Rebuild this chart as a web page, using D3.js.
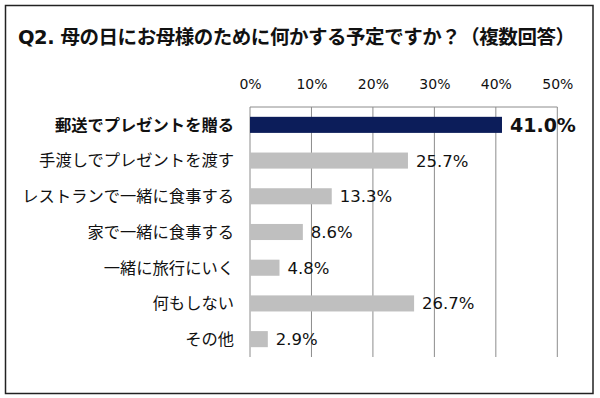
<!DOCTYPE html>
<html><head><meta charset="utf-8">
<script src="https://cdn.jsdelivr.net/npm/d3@7"></script>
<style>html,body{margin:0;padding:0;background:#fff;}svg{display:block;}</style>
</head><body>
<svg id="c" width="600" height="398"></svg>
<script>
const title = "Q2. 母の日にお母様のために何かする予定ですか？（複数回答）";
const categories = ["郵送でプレゼントを贈る","手渡しでプレゼントを渡す","レストランで一緒に食事する","家で一緒に食事する","一緒に旅行にいく","何もしない","その他"];
const values = [41.0, 25.7, 13.3, 8.6, 4.8, 26.7, 2.9];
const tickValues = [0, 10, 20, 30, 40, 50];
const highlight = "郵送でプレゼントを贈る";

const svg = d3.select("#c");
const FONT = "'DejaVu Sans','Noto Sans CJK JP',sans-serif";
const JFONT = "'Noto Sans CJK JP',sans-serif";

svg.append("rect").attr("x",5.5).attr("y",5.5).attr("width",587.5).attr("height",388)
  .attr("fill","#fff").attr("stroke","#222").attr("stroke-width",1.5);

const t = svg.append("text").attr("x",18).attr("y",44).attr("font-family",FONT)
  .attr("font-weight","bold").attr("font-size",19.5).attr("fill","#111").text(title);
t.attr("textLength",557).attr("lengthAdjust","spacing");

const x = d3.scaleLinear().domain([0,50]).range([250,557.3]);
const y = d3.scaleBand().domain(categories).range([107,357]).paddingInner(0.55).paddingOuter(0.275);

// gridlines
svg.append("g").selectAll("line").data(tickValues).join("line")
  .attr("x1",d=>x(d)).attr("x2",d=>x(d)).attr("y1",107).attr("y2",357)
  .attr("stroke","#8c8c8c").attr("stroke-width",1);
svg.append("line").attr("x1",x(0)).attr("x2",x(50)).attr("y1",107).attr("y2",107)
  .attr("stroke","#8c8c8c").attr("stroke-width",1);

// top axis labels
const ax = d3.axisTop(x).tickValues(tickValues).tickFormat(d=>d+"%").tickSize(0).tickPadding(0);
const axg = svg.append("g").attr("transform","translate(0,89)").call(ax);
axg.select(".domain").remove();
axg.selectAll("text").attr("font-family",FONT).attr("font-size",14).attr("fill","#111");

// bars
svg.append("g").selectAll("rect").data(categories).join("rect")
  .attr("x",x(0)).attr("y",d=>y(d)).attr("height",y.bandwidth())
  .attr("width",(d,i)=>x(values[i])-x(0))
  .attr("fill",d=>d===highlight?"#0c1d5a":"#bfbfbf");

// value labels
svg.append("g").selectAll("text").data(categories).join("text")
  .attr("x",(d,i)=>x(values[i])+8).attr("y",d=>y(d)+y.bandwidth()/2)
  .attr("dy","0.36em").attr("font-family",FONT)
  .attr("font-size",d=>d===highlight?19:16.5)
  .attr("font-weight",d=>d===highlight?"bold":"normal")
  .attr("fill","#111")
  .text((d,i)=>values[i].toFixed(1)+"%");

// category labels
svg.append("g").selectAll("text").data(categories).join("text")
  .attr("x",234).attr("y",d=>y(d)+y.bandwidth()/2)
  .attr("dy","0.36em").attr("text-anchor","end").attr("font-family",JFONT)
  .attr("font-size",16.3)
  .attr("font-weight",d=>d===highlight?"bold":"normal")
  .attr("fill","#111").text(d=>d);
</script>
</body></html>
